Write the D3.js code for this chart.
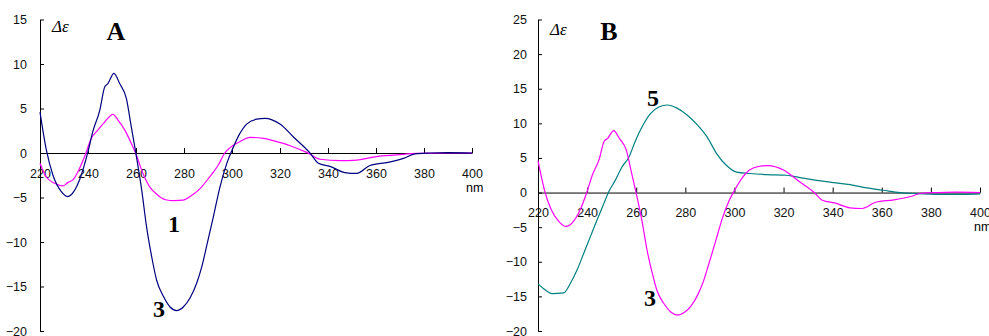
<!DOCTYPE html>
<html lang="en">
<head>
<meta charset="UTF-8" />
<title>CD spectra A / B</title>
<script src="https://cdn.jsdelivr.net/npm/d3@7"></script>
<style>
  body { margin: 0; background: #fff; }
  .tick text { font-family: "Liberation Sans", Arial, sans-serif; font-size: 12.5px; fill: #111; }
  .axis path, .axis line { stroke: #000; }
</style>
</head>
<body>
<svg width="989" height="336"></svg>
<script>
  // compound 3 (navy in A, magenta in B)
  const nm3 = [220, 222.6, 225.4, 228.9, 231.4, 234.4, 236.5, 240, 242, 244.9, 247, 248.3, 250.8, 253.2, 256, 258, 259.8,
    262.4, 264.4, 266.5, 268.6, 271.4, 274.2, 276.9, 279.7, 282.5, 285.3, 287.4, 289.4, 292.2, 295, 297.8, 300,
    303.3, 306.1, 310.3, 313.7, 320, 325.6, 332.5, 336, 340.8, 347, 351.9, 357.5, 365, 371.4, 376.3, 382.5, 390, 400];
  const cd3 = [4.6, 0.4, -2.5, -4.35, -4.9, -4.2, -3.0, 0.15, 2.4, 4.8, 7.45, 7.8, 8.95, 7.8, 6.1, 3.0, 0.2,
    -4.2, -8.3, -11.6, -14.3, -16.1, -17.3, -17.7, -17.3, -16.3, -14.6, -12.8, -10.5, -7.2, -3.8, -1.2, 0.3,
    2.2, 3.25, 3.8, 3.9, 3.25, 1.8, 0, -1.15, -1.5, -2.2, -2.3, -1.4, -1.05, -0.6, -0.1, 0, 0.05, 0];

  // compound 1 (magenta in A)
  const nm1 = [220, 222.6, 226.1, 229.6, 231.7, 233.8, 235.8, 238.6, 241.4, 244.2, 247, 250.4, 252.5, 255.3, 258, 260.1,
    262.9, 265.7, 268.5, 272.3, 276, 279.7, 282.5, 286.7, 290.8, 294.3, 297, 299.2, 303.3, 307.5, 313.1, 318.6,
    324.2, 331.1, 336.7, 345, 352, 360.3, 368.6, 377, 390, 400];
  const cd1 = [-1.15, -2.7, -3.4, -3.7, -3.3, -3.0, -2.1, -0.4, 1.65, 2.6, 3.5, 4.35, 3.7, 2.6, 1.1, -0.2,
    -2.3, -3.8, -4.6, -5.25, -5.35, -5.3, -4.9, -4.0, -2.65, -1.35, 0, 0.6, 1.27, 1.75, 1.65, 1.27,
    0.82, 0.07, -0.7, -0.86, -0.79, -0.4, -0.22, -0.04, 0, 0];

  // compound 5 (teal in B)
  const nm5 = [220, 222.3, 225.7, 230.4, 233.2, 235.9, 238.6, 241.3, 244, 246.8, 248.8, 251.5, 254.2, 257, 259.7, 262.4,
    265.8, 269.2, 272.6, 276.6, 280.7, 284.8, 288.9, 292.8, 296.8, 300.9, 306.4, 313.2, 321.3, 326.7, 333.5, 340.3,
    347.1, 353.9, 360.7, 367.5, 374.3, 383.7, 394.5, 400];
  const cd5 = [-13.2, -13.9, -14.6, -14.5, -13.1, -11.2, -8.8, -6.4, -4.0, -1.6, 0.1, 1.8, 3.7, 5.1, 7.5, 9.5,
    11.4, 12.35, 12.65, 12.2, 11.2, 9.8, 8.0, 5.6, 3.9, 2.95, 2.75, 2.6, 2.5, 2.15, 1.77, 1.44,
    1.15, 0.67, 0.33, 0, -0.15, -0.25, -0.25, -0.2];

  const xTicks = [220, 240, 260, 280, 300, 320, 340, 360, 380, 400];
  const yTicksA = [-20, -15, -10, -5, 0, 5, 10, 15];
  const yTicksB = [-20, -15, -10, -5, 0, 5, 10, 15, 20, 25];

  const svg = d3.select("svg");

  function panel(cfg) {
    const x = d3.scaleLinear().domain([220, 400]).range(cfg.xr);
    const y = d3.scaleLinear().domain(cfg.yd).range([331, 19.5]);
    const g = svg.append("g");

    g.append("g").attr("class", "axis")
      .attr("transform", `translate(0,${y(0)})`)
      .call(d3.axisBottom(x).tickValues(xTicks).tickSizeInner(-5).tickSizeOuter(0).tickPadding(16).tickFormat(d3.format("d")));

    g.append("g").attr("class", "axis")
      .attr("transform", `translate(${cfg.xr[0]},0)`)
      .call(d3.axisLeft(y).tickValues(cfg.yTicks).tickSizeInner(-4).tickSizeOuter(0).tickPadding(cfg.yPad).tickFormat(d3.format("d")));

    const line = d3.line().x(d => x(d[0])).y(d => y(d[1])).curve(d3.curveMonotoneX);
    cfg.series.forEach(s => {
      g.append("path")
        .attr("d", line(d3.zip(s.nm, s.cd)))
        .attr("fill", "none")
        .attr("stroke", s.color)
        .attr("stroke-width", 1.2);
    });

    g.append("text")
      .attr("x", x(400) - 6).attr("y", y(0) + cfg.nmDy)
      .attr("font-family", "Liberation Sans, Arial, sans-serif")
      .attr("font-size", 12.5)
      .text("nm");

    g.append("text")
      .attr("x", cfg.xr[0] + 12).attr("y", cfg.deltaY)
      .attr("font-family", "Liberation Serif, Times New Roman, serif")
      .attr("font-style", "italic")
      .attr("font-size", 17)
      .text("Δε");

    g.append("text")
      .attr("x", cfg.xr[0] + cfg.letterDx).attr("y", 40)
      .attr("text-anchor", "middle")
      .attr("font-family", "Liberation Serif, Times New Roman, serif")
      .attr("font-weight", "bold")
      .attr("font-size", 26)
      .text(cfg.letter);

    cfg.labels.forEach(l => {
      g.append("text")
        .attr("x", x(l.nm)).attr("y", y(l.v))
        .attr("text-anchor", "middle")
        .attr("font-family", "Liberation Serif, Times New Roman, serif")
        .attr("font-weight", "bold")
        .attr("font-size", 24)
        .text(l.t);
    });
  }

  panel({
    xr: [40, 472], yd: [-20, 15], yTicks: yTicksA, yPad: 13, nmDy: 39, deltaY: 32,
    letter: "A", letterDx: 76,
    series: [
      { nm: nm1, cd: cd1, color: "#ff00ff" },
      { nm: nm3, cd: cd3, color: "#000080" }
    ],
    labels: [{ t: "1", nm: 275.8, v: -8.9 }, { t: "3", nm: 269.6, v: -18.4 }]
  });

  panel({
    xr: [538, 980], yd: [-20, 25], yTicks: yTicksB, yPad: 11, nmDy: 38, deltaY: 35,
    letter: "B", letterDx: 71,
    series: [
      { nm: nm5, cd: cd5, color: "#008080" },
      { nm: nm3, cd: cd3, color: "#ff00ff" }
    ],
    labels: [{ t: "5", nm: 266.8, v: 12.45 }, { t: "3", nm: 265.6, v: -16.4 }]
  });
</script>
</body>
</html>
